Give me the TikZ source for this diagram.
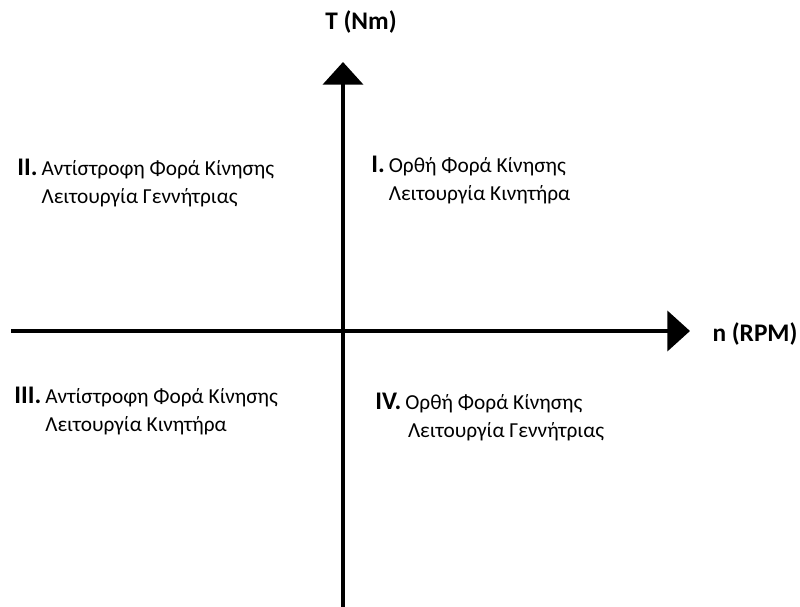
\documentclass[tikz,border=0pt]{standalone}
\usepackage{fontspec}
\setmainfont{Carlito}
\usetikzlibrary{arrows.meta}
\newcommand{\qnum}[1]{{\fontsize{19}{21}\selectfont\bfseries #1}}
\tikzset{
  axis/.style={line width=3pt, -{Triangle[width=30pt,length=17pt]}},
  quad/.style={anchor=west, inner sep=0pt, font=\fontsize{16}{21}\selectfont, align=left},
  axlabel/.style={anchor=center, inner sep=0pt, font=\fontsize{19}{22}\selectfont\bfseries}
}
\begin{document}
\begin{tikzpicture}[x=0.75pt,y=-0.75pt]
\useasboundingbox (0,0) rectangle (800,607);
\fill[white] (0,0) rectangle (800,607);
\coordinate (xs) at (11,331);
\coordinate (xe) at (690,331);
\coordinate (ys) at (343,610);
\coordinate (ye) at (343,62);
\draw[axis] (xs) -- (xe);
\draw[axis] (ys) -- (ye);
\node[axlabel] (tl) at (361,22) {T (Nm)};
\node[axlabel] (nl) at (755,334) {n (RPM)};
\node[quad] (q1) at (371,181) {\begin{tabular}{@{}r@{\hspace{3pt}}l@{}}\qnum{I.} & Ορθή Φορά Κίνησης\\ & Λειτουργία Κινητήρα\end{tabular}};
\node[quad] (q2) at (17,184) {\begin{tabular}{@{}r@{\hspace{3pt}}l@{}}\qnum{II.} & Αντίστροφη Φορά Κίνησης\\ & Λειτουργία Γεννήτριας\end{tabular}};
\node[quad] (q3) at (14,412) {\begin{tabular}{@{}r@{\hspace{3pt}}l@{}}\qnum{III.} & Αντίστροφη Φορά Κίνησης\\ & Λειτουργία Κινητήρα\end{tabular}};
\node[quad] (q4) at (375,418) {\begin{tabular}{@{}r@{\hspace{3pt}}l@{}}\qnum{IV.} & Ορθή Φορά Κίνησης\\ & \hspace{2pt}Λειτουργία Γεννήτριας\end{tabular}};
\end{tikzpicture}
\end{document}
